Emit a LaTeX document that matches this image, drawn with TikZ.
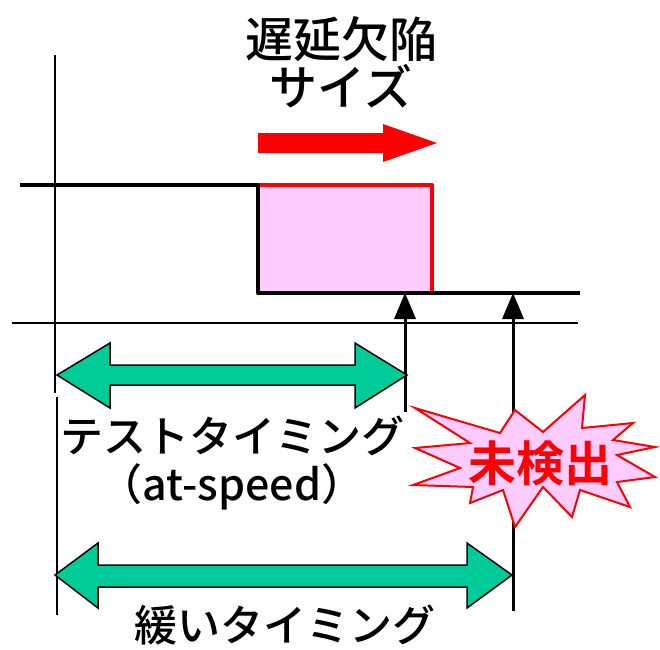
\documentclass[tikz,border=0pt]{standalone}
\usepackage{fontspec}
\newfontfamily\jp{Noto Sans CJK JP Medium}
\newfontfamily\jpb{Noto Sans CJK JP Bold}
\definecolor{pinkfill}{HTML}{FFCCFF}
\definecolor{dimgreen}{HTML}{00CC99}
\tikzset{
  axisline/.style={black, line width=1.5pt},
  signal/.style={black, line width=4pt, line join=round},
  rededge/.style={red, line width=4pt, line join=round},
  marker/.style={black, line width=3pt},
  dimarrow/.style={fill=dimgreen, draw=black, line width=1.5pt, line join=miter},
  lbl/.style={font=\jp\fontsize{43}{48}\selectfont, inner sep=0pt, align=center},
}
\begin{document}
\begin{tikzpicture}[x=1pt,y=-1pt]
\useasboundingbox (0,0) rectangle (660,649);
% axes
\draw[axisline] (55,55) -- (55,393);
\draw[axisline] (57,397) -- (57,615);
\draw[axisline] (12,323) -- (578,323);
% pink defect area
\fill[pinkfill] (258,185) rectangle (432,293);
\draw[rededge] (258,185) -- (432,185) -- (432,293);
% signal
\draw[signal] (20,185) -- (258,185) -- (258,293) -- (580,293);
% red arrow
\fill[red] (258,133) -- (383,133) -- (383,124) -- (437,143) -- (383,162) -- (383,153) -- (258,153) -- cycle;
% markers
\coordinate (m1) at (405,293);
\coordinate (m2) at (513,293);
\coordinate (m1end) at (405,412);
\coordinate (m2end) at (513,611);
\fill (m1) -- ++(-11,26) -- ++(22,0) -- cycle;
\fill (m2) -- ++(-11,26) -- ++(22,0) -- cycle;
\draw[marker] (m1) ++(0,20) -- (m1end);
\draw[marker] (m2) ++(0,20) -- (m2end);
% dimension arrows
\draw[dimarrow] (57,375) -- (110,343) -- (110,365) -- (355,365) -- (355,343) -- (407,375) -- (355,408) -- (355,385) -- (110,385) -- (110,408) -- cycle;
\draw[dimarrow] (55,575) -- (98,543) -- (98,565) -- (467,565) -- (467,543) -- (512,575) -- (467,608) -- (467,587) -- (98,587) -- (98,608) -- cycle;
% burst
\draw[fill=pinkfill, draw=red, line width=2pt, line join=miter]
 (415,408) -- (500,433) -- (515,410) -- (543,432) -- (585,395) -- (582,428) -- (633,423) -- (613,440) -- (655,447) -- (617,455) -- (655,477) -- (617,482) -- (630,507) -- (580,490) -- (572,517) -- (543,487) -- (515,527) -- (503,490) -- (470,503) -- (473,487) -- (413,485) -- (460,468) -- (415,448) -- (470,443) -- cycle;
% texts
\node[lbl, font=\jp\fontsize{48}{48}\selectfont] (title) at (341,62) {遅延欠陥\\サイズ};
\node[lbl] (test) at (232,463) {テストタイミング\\（at-speed）};
\node[lbl] (slow) at (285,625) {緩いタイミング};
\node[inner sep=0pt, text=red, font=\jpb\fontsize{48}{52}\selectfont] (undet) at (540,463) {未検出};
\end{tikzpicture}
\end{document}
